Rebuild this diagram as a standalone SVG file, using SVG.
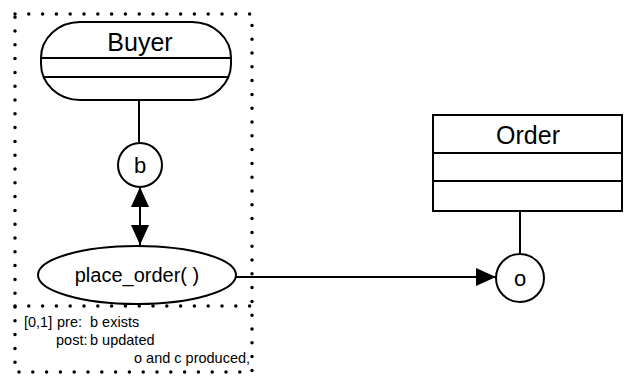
<svg xmlns="http://www.w3.org/2000/svg" width="629" height="378" viewBox="0 0 629 378">
<style>
.s{fill:none;stroke:#000;stroke-width:2}
.w{fill:#fff;stroke:#000;stroke-width:2}
.dot{fill:none;stroke:#000;stroke-width:3.5;stroke-dasharray:0 13.8;stroke-linecap:round}
.c{stroke:#000;stroke-width:2;fill:none}
text{font-family:"Liberation Sans",Arial,sans-serif;fill:#000}
.big{font-size:25px;text-anchor:middle}
.mid{font-size:20px;text-anchor:middle}
.sm{font-size:14.5px}
</style>
<defs>
<marker id="ah" viewBox="0 0 20 18" refX="20" refY="9" markerWidth="20" markerHeight="18" markerUnits="userSpaceOnUse" orient="auto-start-reverse">
<path d="M0,0 L20,9 L0,18 Z" fill="#000"/>
</marker>
</defs>
<g id="boundary">
<path class="dot" d="M15,14 H252 V372 H15 Z"/>
<path class="dot" d="M15,306 H252"/>
</g>
<g id="connectors">
<line class="c" x1="139" y1="100" x2="139" y2="142"/>
<line class="c" x1="140" y1="187" x2="140" y2="245" marker-start="url(#ah)" marker-end="url(#ah)"/>
<line class="c" x1="236" y1="277" x2="496" y2="277" marker-end="url(#ah)"/>
<line class="c" x1="520" y1="211" x2="520" y2="253"/>
</g>
<g id="buyer">
<rect class="w" x="41" y="22" width="190" height="78" rx="39" ry="36"/>
<line class="s" x1="41" y1="58" x2="231" y2="58"/>
<line class="s" x1="43" y1="77" x2="229" y2="77"/>
<text class="big" x="140" y="51">Buyer</text>
</g>
<g id="b">
<circle class="w" cx="140" cy="165" r="22"/>
<text class="mid" x="140" y="173" style="font-size:22px">b</text>
</g>
<g id="place_order">
<ellipse class="w" cx="137" cy="275" rx="99" ry="29"/>
<text class="mid" x="137" y="282">place_order( )</text>
</g>
<g id="order">
<rect class="w" x="433" y="115" width="189" height="96"/>
<line class="s" x1="433" y1="153" x2="622" y2="153"/>
<line class="s" x1="433" y1="181" x2="622" y2="181"/>
<text class="big" x="528" y="144">Order</text>
</g>
<g id="o">
<circle class="w" cx="520" cy="278" r="24"/>
<text class="mid" x="520" y="286" style="font-size:22px">o</text>
</g>
<g id="note">
<text class="sm" x="24" y="327">[0,1]</text>
<text class="sm" x="57" y="327">pre:</text>
<text class="sm" x="90" y="327">b exists</text>
<text class="sm" x="56" y="345">post:</text>
<text class="sm" x="90" y="345">b updated</text>
<text class="sm" x="134" y="363">o and c produced,</text>
</g>
</svg>
